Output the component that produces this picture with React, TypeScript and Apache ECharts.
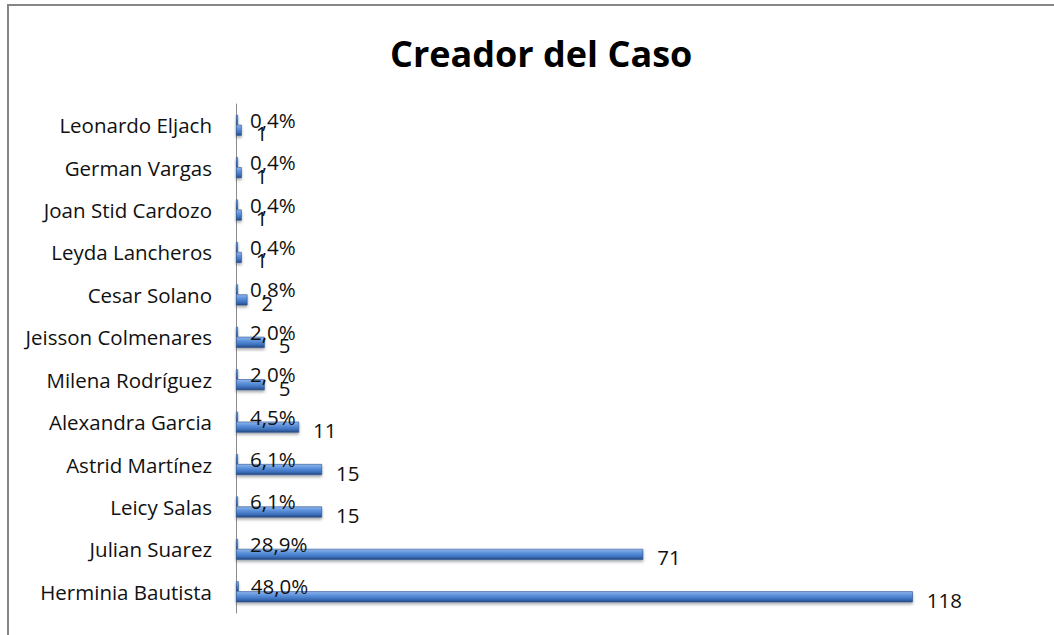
import React, { useEffect, useRef } from "react";
import * as echarts from "echarts";

const categories = [
  "Herminia Bautista",
  "Julian Suarez",
  "Leicy Salas",
  "Astrid Martínez",
  "Alexandra Garcia",
  "Milena Rodríguez",
  "Jeisson Colmenares",
  "Cesar Solano",
  "Leyda Lancheros",
  "Joan Stid Cardozo",
  "German Vargas",
  "Leonardo Eljach",
];
const counts = [118, 71, 15, 15, 11, 5, 5, 2, 1, 1, 1, 1];
const percents = [48.0, 28.9, 6.1, 6.1, 4.5, 2.0, 2.0, 0.8, 0.4, 0.4, 0.4, 0.4];
const title = "Creador del Caso";

const FONT = "'Open Sans', Lato, sans-serif";
const FS = 20.5;

const barStyle = {
  color: new echarts.graphic.LinearGradient(0, 0, 0, 1, [
    { offset: 0, color: "#8fb6ec" },
    { offset: 0.35, color: "#5d92dc" },
    { offset: 0.7, color: "#3f73c0" },
    { offset: 1, color: "#24497f" },
  ]),
  borderColor: "#2b5190",
  borderWidth: 0.6,
  shadowColor: "rgba(0,0,0,0.35)",
  shadowBlur: 3,
  shadowOffsetY: 2,
};

export default function App() {
  const ref = useRef<HTMLDivElement>(null);
  useEffect(() => {
    if (!ref.current) return;
    const chart = echarts.init(ref.current, null, { renderer: "svg" });
    chart.setOption({
      animation: false,
      backgroundColor: "#ffffff",
      title: {
        text: title,
        left: 385,
        top: 30,
        textStyle: { fontFamily: FONT, fontWeight: "bold", fontSize: 36, color: "#000" },
      },
      graphic: [
        {
          type: "rect",
          shape: { x: 8, y: 5, width: 1200, height: 800 },
          style: { fill: "none", stroke: "#868686", lineWidth: 2 },
          silent: true,
        },
      ],
      grid: { left: 236, right: 15, top: 104, bottom: 22, containLabel: false },
      xAxis: {
        type: "value",
        min: 0,
        max: 140,
        show: false,
        splitLine: { show: false },
      },
      yAxis: {
        type: "category",
        data: categories,
        axisLine: { show: true, lineStyle: { color: "#8c8c8c", width: 1 } },
        axisTick: { show: false },
        axisLabel: { margin: 24, fontFamily: FONT, fontSize: FS, color: "#111" },
      },
      series: [
        {
          type: "bar",
          name: "Porcentaje",
          data: percents.map((p) => p / 100),
          barWidth: 10,
          barGap: "0%",
          barMinHeight: 2,
          itemStyle: barStyle,
          label: {
            show: true,
            position: "right",
            distance: 12,
            fontFamily: FONT,
            fontSize: FS,
            color: "#111",
            formatter: (p: any) => percents[p.dataIndex].toFixed(1).replace(".", ",") + "%",
          },
        },
        {
          type: "bar",
          name: "Cantidad",
          data: counts,
          barWidth: 11,
          barGap: "0%",
          itemStyle: barStyle,
          label: {
            show: true,
            position: "right",
            distance: 14,
            offset: [0, 3],
            fontFamily: FONT,
            fontSize: FS,
            color: "#111",
          },
        },
      ],
    });
    return () => chart.dispose();
  }, []);
  return (
    <div
      ref={ref}
      style={{ position: "fixed", left: 0, top: 0, width: 1054, height: 635 }}
    />
  );
}
